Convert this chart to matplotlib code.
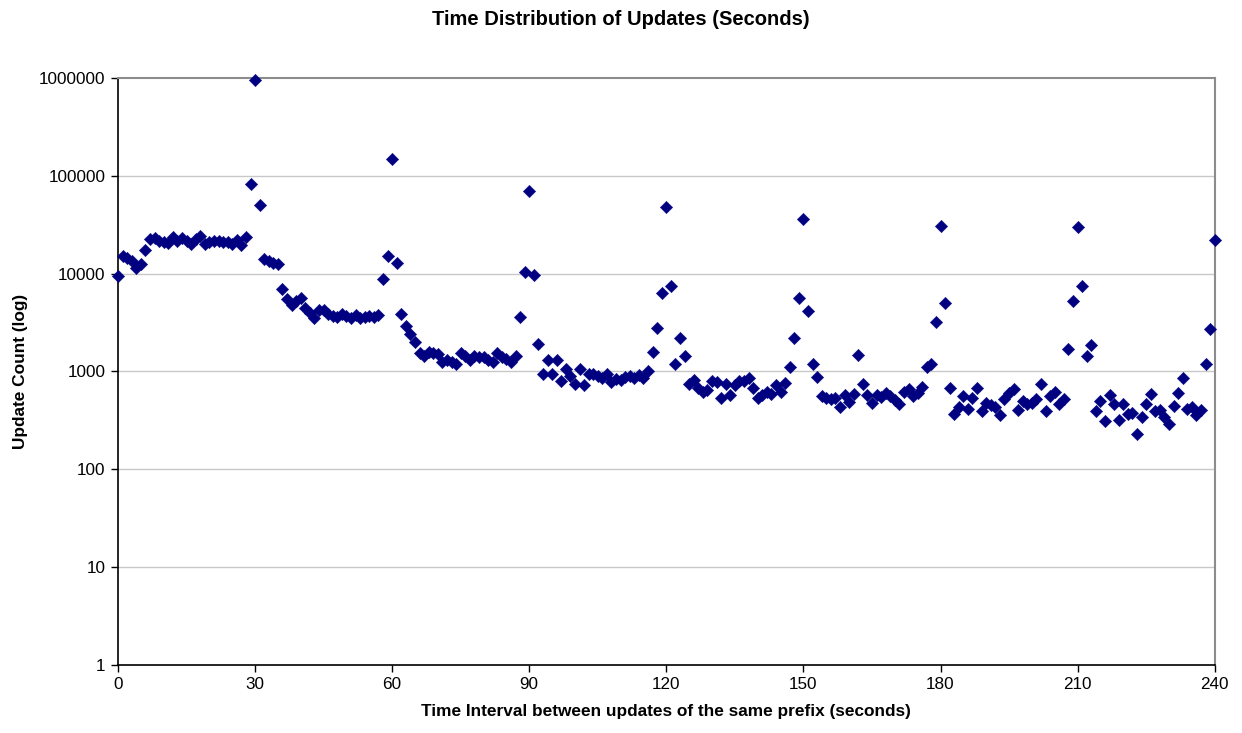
import numpy as np
import matplotlib
matplotlib.use('Agg')
import matplotlib.pyplot as plt
from matplotlib.ticker import FixedLocator, FixedFormatter, NullLocator

plt.rcParams['font.family'] = ['Liberation Sans', 'DejaVu Sans']

# update counts per interval (seconds 0..240)
interval = np.arange(0, 241)
counts = [
    9500, 15000, 14500, 13500, 11500, 12500, 17500, 22500, 23000, 21500,
    21000, 20500, 23500, 21500, 23000, 21500, 20000, 22500, 24000, 20000,
    21000, 21500, 21500, 21000, 21000, 20000, 22000, 19500, 23500, 83000,
    950000, 50000, 14000, 13500, 13000, 12500, 7000, 5500, 4800, 5200,
    5600, 4500, 4000, 3500, 4300, 4300, 3900, 3700, 3600, 3900,
    3700, 3500, 3800, 3500, 3600, 3700, 3600, 3800, 8800, 15000,
    150000, 13000, 3900, 2900, 2400, 2000, 1550, 1450, 1600, 1550,
    1500, 1250, 1300, 1250, 1200, 1550, 1450, 1300, 1450, 1400,
    1400, 1300, 1250, 1550, 1400, 1350, 1250, 1450, 3600, 10500,
    70000, 9800, 1900, 950, 1300, 950, 1300, 800, 1050, 900,
    750, 1050, 720, 950, 950, 900, 850, 950, 780, 830,
    820, 880, 900, 850, 920, 850, 1000, 1600, 2800, 6300,
    48000, 7500, 1200, 2200, 1450, 750, 820, 680, 620, 640,
    800, 780, 540, 750, 580, 720, 800, 800, 850, 680,
    540, 580, 620, 590, 730, 620, 760, 1100, 2200, 5700,
    36000, 4200, 1200, 880, 560, 530, 520, 540, 430, 580,
    490, 590, 1480, 740, 570, 480, 570, 550, 600, 560,
    510, 470, 610, 660, 560, 600, 700, 1100, 1200, 3200,
    31000, 5000, 680, 370, 430, 560, 410, 540, 680, 390,
    480, 450, 430, 360, 520, 600, 660, 400, 500, 460,
    480, 520, 750, 390, 560, 620, 460, 520, 1700, 5200,
    30000, 7400, 1450, 1850, 390, 500, 310, 580, 470, 320,
    460, 370, 380, 230, 340, 470, 590, 390, 400, 340,
    290, 440, 600, 850, 410, 430, 360, 400, 1180, 2700,
    22000,
]

x_ticks = [0, 30, 60, 90, 120, 150, 180, 210, 240]
y_ticks = [1, 10, 100, 1000, 10000, 100000, 1000000]
y_tick_labels = ['1', '10', '100', '1000', '10000', '100000', '1000000']

fig = plt.figure(figsize=(12.42, 7.33), dpi=100)
ax = fig.add_axes([0.095, 0.0928, 0.883, 0.8008])

ax.set_yscale('log')
ax.set_xlim(0, 240)
ax.set_ylim(1, 1000000)

for y in y_ticks[1:-1]:
    ax.axhline(y, color='#c8c8c8', linewidth=1.0, zorder=1)

ax.scatter(interval, counts, marker='D', s=40, color='#000080',
           edgecolors='#000080', linewidths=0.3, zorder=3, clip_on=False)

ax.xaxis.set_major_locator(FixedLocator(x_ticks))
ax.set_xticklabels([str(t) for t in x_ticks])
ax.yaxis.set_major_locator(FixedLocator(y_ticks))
ax.yaxis.set_major_formatter(FixedFormatter(y_tick_labels))
ax.yaxis.set_minor_locator(NullLocator())

ax.tick_params(axis='both', direction='out', length=5, width=1,
               labelsize=12.3, color='black', pad=4)

for side in ['left', 'bottom']:
    ax.spines[side].set_color('black')
    ax.spines[side].set_linewidth(1.2)
for side in ['top', 'right']:
    ax.spines[side].set_color('#8c8c8c')
    ax.spines[side].set_linewidth(1.5)

ax.set_xlabel('Time Interval between updates of the same prefix (seconds)',
              fontsize=12.4, fontweight='bold', labelpad=8)
ax.set_ylabel('Update Count (log)', fontsize=12.4, fontweight='bold', labelpad=8)
fig.suptitle('Time Distribution of Updates (Seconds)', fontsize=14.5,
             fontweight='bold', y=0.987)

plt.savefig('out.png', dpi=100)
plt.close()
